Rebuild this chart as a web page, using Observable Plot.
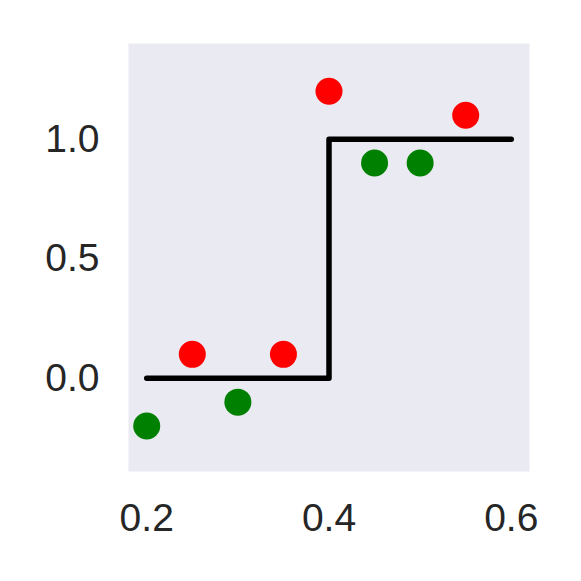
<!DOCTYPE html>
<html>
<head>
<meta charset="utf-8">
<script src="https://cdn.jsdelivr.net/npm/d3@7"></script>
<script src="https://cdn.jsdelivr.net/npm/@observablehq/plot@0.6"></script>
<style>
  html, body { margin: 0; padding: 0; background: #fff; }
</style>
</head>
<body>
<div id="chart"></div>
<script>
const pointX = [0.2, 0.25, 0.3, 0.35, 0.4, 0.45, 0.5, 0.55];
const pointY = [-0.2, 0.1, -0.1, 0.1, 1.2, 0.9, 0.9, 1.1];
const pointColor = ["green", "red", "green", "red", "red", "green", "green", "red"];
const stepX = [0.2, 0.4, 0.6];
const stepY = [0, 1, 1];
const xTicks = [0.2, 0.4, 0.6];
const yTicks = [0.0, 0.5, 1.0];

const points = pointX.map((x, i) => ({x, y: pointY[i], c: pointColor[i]}));
const steps = stepX.map((x, i) => ({x, y: stepY[i]}));

const chart = Plot.plot({
  width: 581,
  height: 581,
  marginLeft: 128,
  marginRight: 52,
  marginTop: 43,
  marginBottom: 110,
  style: {fontFamily: "Liberation Sans, Arial, sans-serif", fontSize: "39px", color: "#262626", background: "#fff"},
  x: {domain: [0.18, 0.62], ticks: xTicks, tickFormat: d3.format(".1f"), label: null},
  y: {domain: [-0.39, 1.40], ticks: yTicks, tickFormat: d3.format(".1f"), label: null},
  marks: [
    Plot.frame({fill: "#EAEAF2", stroke: null}),
    Plot.axisX({ticks: xTicks, tickFormat: d3.format(".1f"), tickSize: 0, tickPadding: 32, fontSize: 39, label: null}),
    Plot.axisY({ticks: yTicks, tickFormat: d3.format(".1f"), tickSize: 0, tickPadding: 29, fontSize: 39, label: null}),
    Plot.line(steps, {x: "x", y: "y", curve: "step-after", stroke: "black", strokeWidth: 5.5}),
    Plot.dot(points, {x: "x", y: "y", fill: "c", r: 13.5, stroke: null})
  ]
});
document.getElementById("chart").appendChild(chart);
</script>
</body>
</html>
